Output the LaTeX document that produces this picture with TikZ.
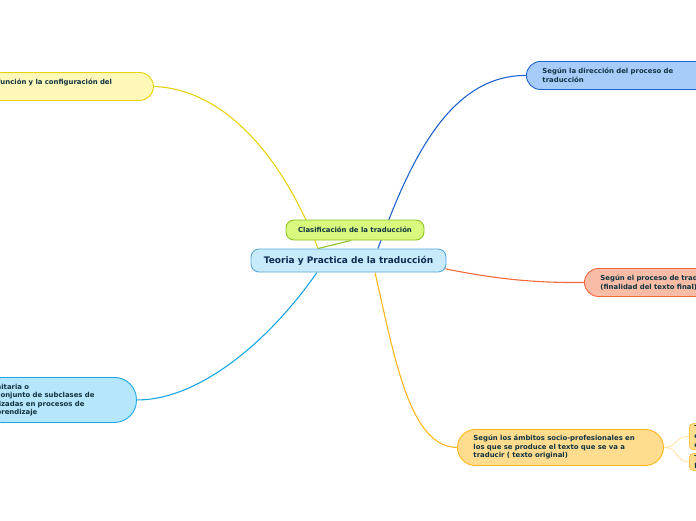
\documentclass[tikz,border=0pt]{standalone}
\usepackage{fontspec}
\setmainfont{DejaVu Sans}
\usetikzlibrary{backgrounds}
\begin{document}
\begin{tikzpicture}[x=1pt,y=-1pt,
  txt/.style={font=\bfseries\fontsize{6.9}{8.5}\selectfont},
  topic/.style={txt, draw, line width=0.9pt, align=left, anchor=north west, inner ysep=0pt, inner xsep=16pt},
  conn/.style={line width=1.1pt},
]
\useasboundingbox (0,0) rectangle (696,520);
\clip (0,0) rectangle (696,520);
\definecolor{cYel}{HTML}{E8D20A}
\definecolor{fYel}{HTML}{FFF8B8}
\definecolor{cBlu}{HTML}{1F63D0}
\definecolor{fBlu}{HTML}{A8CCFA}
\definecolor{cOra}{HTML}{F26A3A}
\definecolor{fOra}{HTML}{F9BCA6}
\definecolor{cLb}{HTML}{1AA6E8}
\definecolor{fLb}{HTML}{B5E6FB}
\definecolor{cGo}{HTML}{FFB71C}
\definecolor{fGo}{HTML}{FFDC8E}
\definecolor{cGr}{HTML}{8DC21F}
\definecolor{fGr}{HTML}{D8F97E}
\definecolor{cCe}{HTML}{5AA8DC}
\definecolor{fCe}{HTML}{C8EBFC}
\definecolor{cSm}{HTML}{FFE6A6}
\definecolor{tx}{HTML}{0F3340}
\definecolor{txc}{HTML}{0E2A50}

% nodes
\node[topic, draw=cYel, fill=fYel, rounded corners=14pt, minimum width=208pt, minimum height=28pt, text width=176pt, text=tx] (yel) at (-55,72) {Según la función y la configuración del\\\mbox{}};
\node[topic, draw=cBlu, fill=fBlu, rounded corners=14pt, minimum width=200pt, minimum height=28pt, text width=168pt, text=tx] (blu) at (526,61) {Según la dirección del proceso de\\traducción};
\node[topic, draw=cOra, fill=fOra, rounded corners=14pt, minimum width=200pt, minimum height=28pt, text width=168pt, text=tx] (ora) at (584,268) {Según el proceso de traducción\\(finalidad del texto final)};
\node[topic, draw=cLb, fill=fLb, rounded corners=22pt, minimum width=156pt, minimum height=45pt, text width=124pt, text=tx] (lb) at (-20,377) {nitaria o\\conjunto de subclases de\\lizadas en procesos de\\prendizaje};
\node[topic, draw=cGo, fill=fGo, rounded corners=18pt, minimum width=206pt, minimum height=36pt, text width=174pt, text=tx] (go) at (457,429) {Según los ámbitos socio-profesionales en\\los que se produce el texto que se va a\\traducir ( texto original)};
\node[topic, draw=cGo!60!fGo, fill=fGo, rounded corners=4pt, minimum width=40pt, minimum height=26pt, inner xsep=5pt, text width=30pt, text=tx] (s1) at (689,423) {T\\e\\e};
\node[topic, draw=cGo!60!fGo, fill=fGo, rounded corners=4pt, minimum width=40pt, minimum height=17pt, inner xsep=5pt, text width=30pt, text=tx] (s2) at (689,453) {T\\b};

\node[txt, draw=cCe, fill=fCe, line width=0.9pt, rounded corners=8pt, minimum width=195pt, minimum height=23pt, inner sep=0pt, font=\bfseries\fontsize{9}{10}\selectfont, text=txc] (ce) at (348.5,260.5) {Teoria y Practica de la traducción};
\node[txt, draw=cGr, fill=fGr, line width=0.9pt, rounded corners=8pt, minimum width=138pt, minimum height=20pt, inner sep=0pt, text=tx] (cl) at (355,230) {Clasificación de la traducción};

% connectors
\begin{scope}[on background layer]
\draw[conn, cYel] (yel.east) .. controls (235,90) and (290,175) .. ([xshift=-30.5pt]ce.north);
\draw[conn, cGr] ([xshift=-30.5pt]ce.north) -- ([xshift=-4pt]cl.south);
\draw[conn, cBlu] (blu.west) .. controls (450,75) and (410,160) .. ([xshift=29.5pt]ce.north);
\draw[conn, cLb] ([xshift=-31.5pt]ce.south) .. controls (270,340) and (200,400) .. (lb.east);
\draw[conn, cOra] ([xshift=-3pt,yshift=4pt]ce.south east) .. controls (500,280) and (540,283) .. (ora.west);
\draw[conn, cGo] ([xshift=26.5pt]ce.south) .. controls (395,360) and (410,447) .. (go.west);
\draw[line width=0.9pt, cSm] (go.east) .. controls (678,447) and (675,436) .. (s1.west);
\draw[line width=0.9pt, cSm] (go.east) .. controls (678,447) and (675,461.5) .. (s2.west);
\end{scope}

\end{tikzpicture}
\end{document}
